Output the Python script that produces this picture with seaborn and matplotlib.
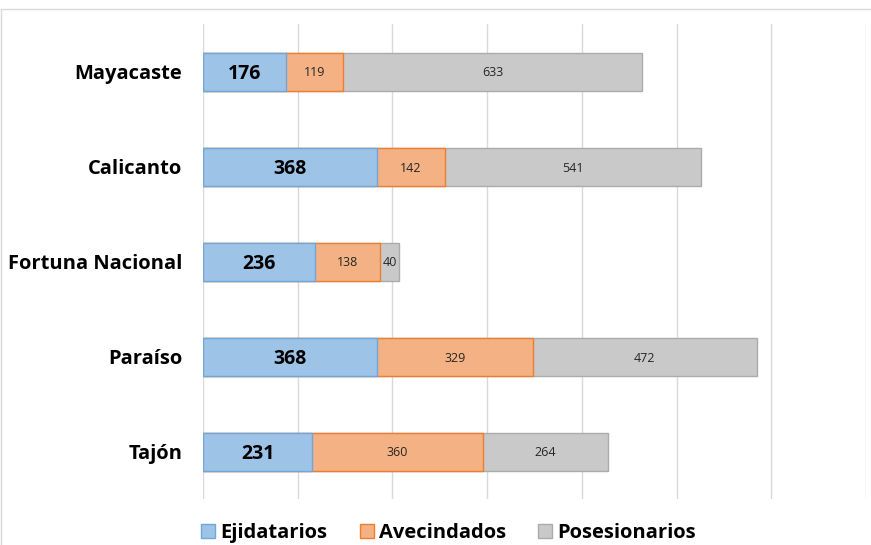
import numpy as np
import matplotlib.pyplot as plt
import seaborn as sns
from matplotlib.patches import Patch, Rectangle

# data
categories = ["Mayacaste", "Calicanto", "Fortuna Nacional", "Paraíso", "Tajón"]
ejidatarios = [176, 368, 236, 368, 231]
avecindados = [119, 142, 138, 329, 360]
posesionarios = [633, 541, 40, 472, 264]
series_names = ["Ejidatarios", "Avecindados", "Posesionarios"]

fills = ["#9DC3E6", "#F4B183", "#C9C9C9"]
edges = ["#6FA6DB", "#ED7D31", "#ABABAB"]

sns.set_style("white")
plt.rcParams['font.family'] = ['Open Sans', 'DejaVu Sans']
plt.rcParams['text.color'] = 'black'

fig = plt.figure(figsize=(8.71, 5.45), dpi=100)
ax = fig.add_axes([203 / 871, 1 - 499 / 545, (866 - 203) / 871, (499 - 24) / 545])

ej = np.array(ejidatarios)
av = np.array(avecindados)
po = np.array(posesionarios)
cum = [ej + av + po, ej + av, ej]

# stacked bars drawn back to front
for vals, fc, ec in zip(cum, fills[::-1], edges[::-1]):
    sns.barplot(x=vals, y=categories, orient="h", color=fc, edgecolor=ec,
                linewidth=1, width=0.4, saturation=1, ax=ax)

# value labels
for i in range(len(categories)):
    ax.text(ej[i] / 2, i, str(ej[i]), ha="center", va="center_baseline",
            fontsize=14, fontweight="bold", color="black")
    ax.text(ej[i] + av[i] / 2, i, str(av[i]), ha="center", va="center_baseline",
            fontsize=9, color="#262626")
    ax.text(ej[i] + av[i] + po[i] / 2, i, str(po[i]), ha="center", va="center_baseline",
            fontsize=9, color="#262626")

ax.set_xlim(0, 1400)
ax.set_ylim(4.5, -0.5)
ax.set_xticks(np.arange(0, 1401, 200))
ax.set_xticklabels([])
ax.set_xlabel("")
ax.set_ylabel("")
ax.grid(axis="x", color="#D9D9D9", linewidth=1)
ax.set_axisbelow(True)
for s in ax.spines.values():
    s.set_visible(False)
ax.tick_params(axis="y", length=0, pad=15, labelsize=14.5, labelcolor="black")
ax.tick_params(axis="x", length=0)
for lbl in ax.get_yticklabels():
    lbl.set_fontweight("bold")

handles = [Patch(facecolor=f, edgecolor=e) for f, e in zip(fills, edges)]
fig.legend(handles, series_names, loc="lower center", bbox_to_anchor=(0.515, -0.03),
           ncol=3, frameon=False, prop={"size": 14.5, "weight": "bold"},
           handlelength=0.7, handleheight=0.7, handletextpad=0.25, columnspacing=1.6,
           labelcolor="black")

fig.patches.append(Rectangle((1 / 871, -0.5), 2, 0.5 + 1 - 9 / 545, transform=fig.transFigure,
                             fill=False, edgecolor="#D9D9D9", linewidth=1))

fig.savefig("out.png", dpi=100)
